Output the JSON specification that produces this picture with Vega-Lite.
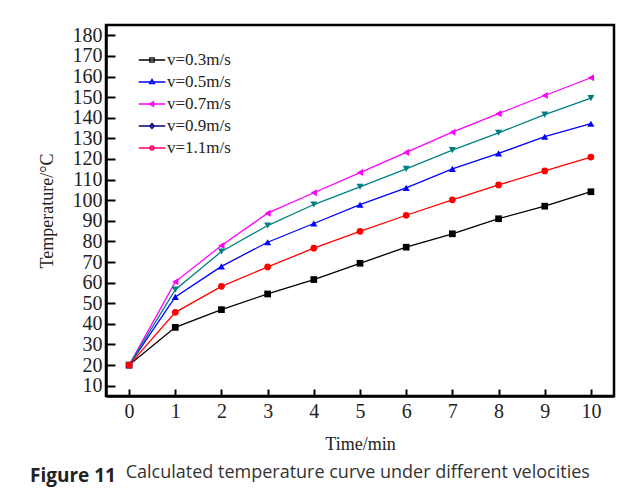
{
  "$schema": "https://vega.github.io/schema/vega-lite/v6.json",
  "width": 508,
  "height": 371,
  "padding": {"left": 30, "top": 25, "right": 25, "bottom": 14},
  "background": "white",
  "title": {
    "text": "Figure 11",
    "subtitle": "\u2800\u2800\u2800\u2800\u2800\u2800\u2800 Calculated temperature curve under different velocities",
    "orient": "bottom",
    "anchor": "start",
    "frame": "bounds",
    "dx": -8,
    "offset": 14,
    "font": "Open Sans",
    "fontSize": 19,
    "fontWeight": "bold",
    "color": "#222222",
    "subtitleFont": "Open Sans",
    "subtitleFontSize": 18,
    "subtitleFontWeight": "normal",
    "subtitleColor": "#333333",
    "subtitlePadding": -22
  },
  "config": {
    "view": {"stroke": "black", "strokeWidth": 2.5},
    "axis": {
      "labelFont": "Liberation Serif",
      "titleFont": "Liberation Serif",
      "labelFontSize": 20,
      "titleFontSize": 18,
      "titleFontWeight": "normal",
      "labelColor": "#222222",
      "titleColor": "#222222",
      "domainColor": "black",
      "domainWidth": 2.5,
      "tickColor": "black",
      "tickWidth": 2,
      "grid": false
    }
  },
  "data": {
    "values": [
      {"t": 0, "T": 20, "s": "v=0.3m/s"}, {"t": 1, "T": 38.3, "s": "v=0.3m/s"}, {"t": 2, "T": 46.9, "s": "v=0.3m/s"}, {"t": 3, "T": 54.5, "s": "v=0.3m/s"}, {"t": 4, "T": 61.5, "s": "v=0.3m/s"}, {"t": 5, "T": 69.4, "s": "v=0.3m/s"}, {"t": 6, "T": 77.2, "s": "v=0.3m/s"}, {"t": 7, "T": 83.7, "s": "v=0.3m/s"}, {"t": 8, "T": 91.0, "s": "v=0.3m/s"}, {"t": 9, "T": 97.1, "s": "v=0.3m/s"}, {"t": 10, "T": 104.1, "s": "v=0.3m/s"},
      {"t": 0, "T": 20, "s": "v=0.5m/s"}, {"t": 1, "T": 53.1, "s": "v=0.5m/s"}, {"t": 2, "T": 67.9, "s": "v=0.5m/s"}, {"t": 3, "T": 79.6, "s": "v=0.5m/s"}, {"t": 4, "T": 88.7, "s": "v=0.5m/s"}, {"t": 5, "T": 97.8, "s": "v=0.5m/s"}, {"t": 6, "T": 106.0, "s": "v=0.5m/s"}, {"t": 7, "T": 115.2, "s": "v=0.5m/s"}, {"t": 8, "T": 122.7, "s": "v=0.5m/s"}, {"t": 9, "T": 130.8, "s": "v=0.5m/s"}, {"t": 10, "T": 137.1, "s": "v=0.5m/s"},
      {"t": 0, "T": 20, "s": "v=0.7m/s"}, {"t": 1, "T": 60.4, "s": "v=0.7m/s"}, {"t": 2, "T": 78.0, "s": "v=0.7m/s"}, {"t": 3, "T": 93.7, "s": "v=0.7m/s"}, {"t": 4, "T": 103.6, "s": "v=0.7m/s"}, {"t": 5, "T": 113.4, "s": "v=0.7m/s"}, {"t": 6, "T": 123.2, "s": "v=0.7m/s"}, {"t": 7, "T": 133.0, "s": "v=0.7m/s"}, {"t": 8, "T": 142.0, "s": "v=0.7m/s"}, {"t": 9, "T": 150.8, "s": "v=0.7m/s"}, {"t": 10, "T": 159.4, "s": "v=0.7m/s"},
      {"t": 0, "T": 20, "s": "v=0.9m/s"}, {"t": 1, "T": 56.6, "s": "v=0.9m/s"}, {"t": 2, "T": 75.1, "s": "v=0.9m/s"}, {"t": 3, "T": 87.7, "s": "v=0.9m/s"}, {"t": 4, "T": 97.9, "s": "v=0.9m/s"}, {"t": 5, "T": 106.5, "s": "v=0.9m/s"}, {"t": 6, "T": 115.2, "s": "v=0.9m/s"}, {"t": 7, "T": 124.3, "s": "v=0.9m/s"}, {"t": 8, "T": 132.7, "s": "v=0.9m/s"}, {"t": 9, "T": 141.5, "s": "v=0.9m/s"}, {"t": 10, "T": 149.5, "s": "v=0.9m/s"},
      {"t": 0, "T": 20, "s": "v=1.1m/s"}, {"t": 1, "T": 45.6, "s": "v=1.1m/s"}, {"t": 2, "T": 58.2, "s": "v=1.1m/s"}, {"t": 3, "T": 67.6, "s": "v=1.1m/s"}, {"t": 4, "T": 76.7, "s": "v=1.1m/s"}, {"t": 5, "T": 84.9, "s": "v=1.1m/s"}, {"t": 6, "T": 92.7, "s": "v=1.1m/s"}, {"t": 7, "T": 100.2, "s": "v=1.1m/s"}, {"t": 8, "T": 107.4, "s": "v=1.1m/s"}, {"t": 9, "T": 114.2, "s": "v=1.1m/s"}, {"t": 10, "T": 120.9, "s": "v=1.1m/s"}
    ]
  },
  "encoding": {
    "x": {
      "field": "t", "type": "quantitative",
      "scale": {"domain": [-0.5, 10.5], "nice": false, "zero": false},
      "axis": {"values": [0,1,2,3,4,5,6,7,8,9,10], "tickSize": -7, "labelPadding": 12, "title": "Time/min", "titlePadding": 14}
    },
    "y": {
      "field": "T", "type": "quantitative",
      "scale": {"domain": [5, 185], "nice": false, "zero": false},
      "axis": {"values": [10,20,30,40,50,60,70,80,90,100,110,120,130,140,150,160,170,180], "tickSize": -9, "labelPadding": 13, "title": "Temperature/°C", "titlePadding": 16}
    }
  },
  "layer": [
    {
      "mark": {"type": "line", "strokeWidth": 1.3},
      "encoding": {
        "color": {
          "field": "s", "type": "nominal",
          "scale": {"domain": ["v=0.3m/s","v=0.5m/s","v=0.7m/s","v=0.9m/s","v=1.1m/s"], "range": ["#000000","#0000ff","#ff00ff","#008080","#ff0000"]},
          "legend": null
        }
      }
    },
    {
      "transform": [{"filter": "datum.s == 'v=0.3m/s'"}],
      "mark": {"type": "point", "filled": true, "size": 45, "opacity": 1, "shape": "square", "color": "#000000"},
      "encoding": {}
    },
    {
      "transform": [{"filter": "datum.s == 'v=0.5m/s'"}],
      "mark": {"type": "point", "filled": true, "size": 50, "opacity": 1, "shape": "triangle-up", "color": "#0000ff"},
      "encoding": {}
    },
    {
      "transform": [{"filter": "datum.s == 'v=0.7m/s'"}],
      "mark": {"type": "point", "filled": true, "size": 50, "opacity": 1, "shape": "triangle-left", "color": "#ff00ff"},
      "encoding": {}
    },
    {
      "transform": [{"filter": "datum.s == 'v=0.9m/s'"}],
      "mark": {"type": "point", "filled": true, "size": 50, "opacity": 1, "shape": "triangle-down", "color": "#008080"},
      "encoding": {}
    },
    {
      "transform": [{"filter": "datum.s == 'v=1.1m/s'"}],
      "mark": {"type": "point", "filled": true, "size": 45, "opacity": 1, "shape": "circle", "color": "#ff0000"},
      "encoding": {}
    },
    {
      "transform": [{"filter": "false"}],
      "mark": {"type": "point", "filled": false, "opacity": 1, "strokeWidth": 1.2},
      "encoding": {
        "color": {
          "field": "s", "type": "nominal",
          "scale": {"domain": ["v=0.3m/s","v=0.5m/s","v=0.7m/s","v=0.9m/s","v=1.1m/s"], "range": ["#000000","#0000ff","#ff00ff","#000080","#ff0066"]},
          "legend": {
            "title": null, "orient": "none", "legendX": 32, "legendY": 21,
            "symbolSize": 700, "symbolStrokeWidth": 1.3,
            "labelFont": "Liberation Serif", "labelFontSize": 17, "labelColor": "#222222",
            "labelOffset": 1, "rowPadding": -8
          }
        },
        "shape": {
          "field": "s", "type": "nominal",
          "scale": {"domain": ["v=0.3m/s","v=0.5m/s","v=0.7m/s","v=0.9m/s","v=1.1m/s"], "range": [
            "M-1,0H1M-0.16,-0.16H0.16V0.16H-0.16Z",
            "M-1,0H1M0,-0.2L0.18,0.12H-0.18Z",
            "M-1,0H1M-0.2,0L0.12,-0.18V0.18Z",
            "M-1,0H1M0,-0.2L0.18,0L0,0.2L-0.18,0Z",
            "M-1,0H1M0.15,0A0.15,0.15,0,1,1,-0.15,0A0.15,0.15,0,1,1,0.15,0Z"
          ]},
          "legend": {
            "title": null, "orient": "none", "legendX": 32, "legendY": 21,
            "symbolSize": 700, "symbolStrokeWidth": 1.3,
            "labelFont": "Liberation Serif", "labelFontSize": 17, "labelColor": "#222222",
            "labelOffset": 1, "rowPadding": -8
          }
        }
      }
    }
  ],
  "resolve": {
    "scale": {"shape": "independent", "color": "independent"},
    "legend": {"shape": "independent", "color": "independent"}
  }
}
